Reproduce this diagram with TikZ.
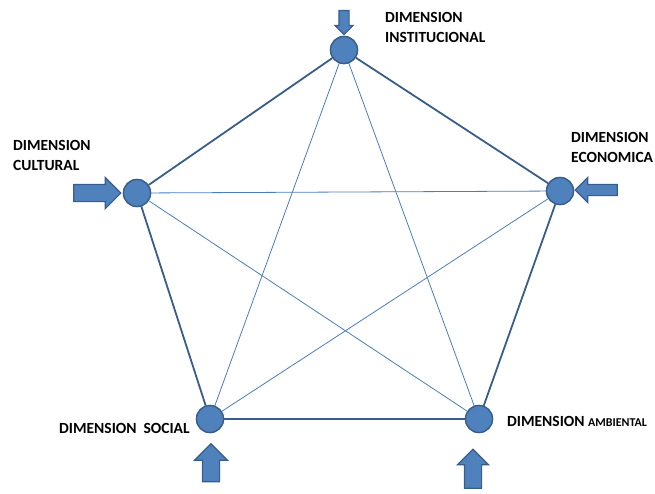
\documentclass[tikz,border=0pt]{standalone}
\usepackage{fontspec}
\setmainfont{Carlito}
\usetikzlibrary{shapes.arrows}
\definecolor{dimfill}{HTML}{4F81BD}
\definecolor{dimline}{HTML}{385D8A}
\definecolor{starline}{HTML}{4A7EBB}
\begin{document}
\begin{tikzpicture}[x=1pt, y=-1pt,
  dim/.style = {circle, fill=dimfill, draw=dimline, line width=1.3pt, minimum size=27pt, inner sep=0pt},
  side/.style = {draw=dimline, line width=1.8pt},
  diag/.style = {draw=starline, line width=0.8pt},
  push/.style 2 args = {single arrow, fill=dimfill, draw=dimline, line width=1.1pt, inner xsep=0pt, inner ysep=#1, single arrow head extend=#2},
  lab/.style = {font=\fontsize{15.5}{20}\selectfont\bfseries, align=left, inner sep=0pt, anchor=west}]
  \useasboundingbox (0,0) rectangle (655,493);
  \node[dim] (inst) at (344,50) {};
  \node[dim] (econ) at (560,191) {};
  \node[dim] (amb) at (479,419) {};
  \node[dim] (soc) at (210,419) {};
  \node[dim] (cult) at (137,193) {};
  \draw[diag] (inst)--(amb);
  \draw[diag] (inst)--(soc);
  \draw[diag] (cult)--(econ);
  \draw[diag] (cult)--(amb);
  \draw[diag] (econ)--(soc);
  \draw[side] (inst)--(econ);
  \draw[side] (econ)--(amb);
  \draw[side] (amb)--(soc);
  \draw[side] (soc)--(cult);
  \draw[side] (cult)--(inst);
  \node[dim] at (inst) {};
  \node[dim] at (econ) {};
  \node[dim] at (amb) {};
  \node[dim] at (soc) {};
  \node[dim] at (cult) {};
  \node[push={4.5pt}{4pt}, rotate=-90, minimum height=24pt] (ainst) at (344,20) {};
  \node[push={8pt}{7pt}, minimum height=47pt] (acult) at (93,193) {};
  \node[push={5pt}{7pt}, rotate=180, minimum height=42pt] (aecon) at (599,190) {};
  \node[push={8pt}{8pt}, rotate=90, minimum height=38pt] (asoc) at (211,467) {};
  \node[push={8pt}{7pt}, rotate=90, minimum height=39pt] (aamb) at (473,473) {};
  \node[lab] (tinst) at (385,27) {DIMENSION\\INSTITUCIONAL};
  \node[lab] (tcult) at (13,155) {DIMENSION\\CULTURAL};
  \node[lab] (tecon) at (571,147) {DIMENSION\\ECONOMICA};
  \node[lab] (tsoc) at (59,428) {DIMENSION\ \ SOCIAL};
  \node[lab] (tamb) at (507,421) {DIMENSION {\fontsize{12}{14}\selectfont AMBIENTAL}};
\end{tikzpicture}
\end{document}
